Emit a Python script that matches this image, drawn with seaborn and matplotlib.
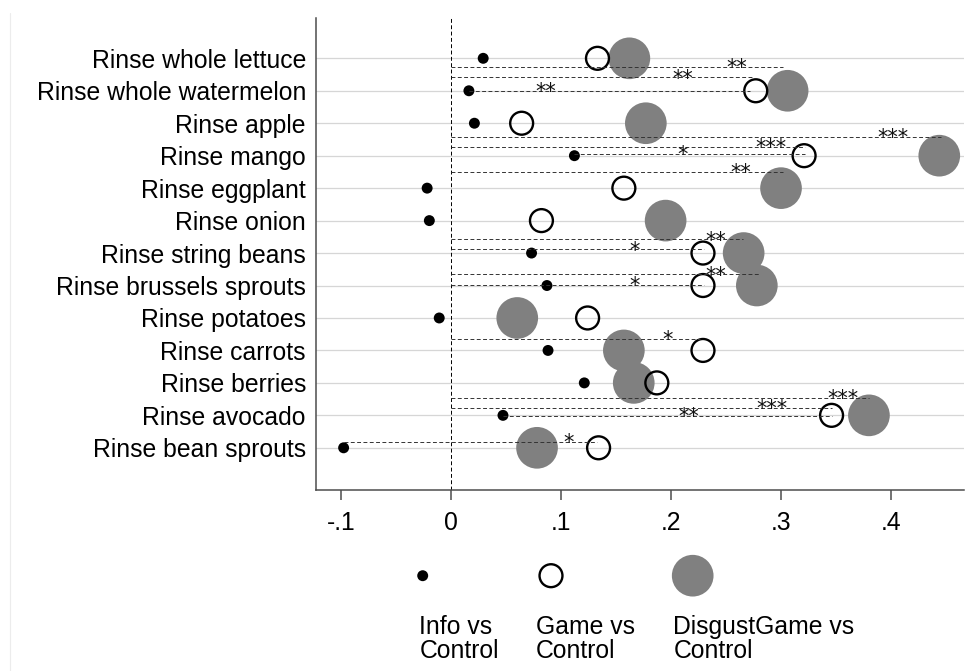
import numpy as np
import pandas as pd
import matplotlib
matplotlib.use("Agg")
import matplotlib.pyplot as plt
from matplotlib.lines import Line2D
import seaborn as sns

# ---- data -------------------------------------------------------------
items = [
    "Rinse whole lettuce", "Rinse whole watermelon", "Rinse apple", "Rinse mango",
    "Rinse eggplant", "Rinse onion", "Rinse string beans", "Rinse brussels sprouts",
    "Rinse potatoes", "Rinse carrots", "Rinse berries", "Rinse avocado",
    "Rinse bean sprouts",
]
info_vs_control = [0.029, 0.016, 0.021, 0.112, -0.022, -0.020, 0.073, 0.087,
                   -0.011, 0.088, 0.121, 0.047, -0.098]
game_vs_control = [0.133, 0.277, 0.064, 0.321, 0.157, 0.082, 0.229, 0.229,
                   0.124, 0.229, 0.187, 0.346, 0.134]
disgust_vs_control = [0.162, 0.306, 0.177, 0.444, 0.300, 0.195, 0.266, 0.278,
                      0.060, 0.157, 0.166, 0.380, 0.078]
group_labels = ["Info vs\nControl", "Game vs\nControl", "DisgustGame vs\nControl"]

# pairwise tests between treatments: row position (0 = first item),
# span of the comparison, significance stars and where the stars sit
sig_row = [0.28, 0.59, 1.0, 2.42, 2.74, 2.96, 3.51, 5.58, 5.89, 6.66, 6.97,
           8.66, 10.46, 10.78, 11.01, 11.83]
sig_from = [0, 0, 0.016, 0, 0, 0.112, 0, 0, 0, 0, 0, 0, 0, 0, 0.047, -0.098]
sig_to = [0.302, 0.274, 0.272, 0.446, 0.322, 0.322, 0.302, 0.265, 0.230, 0.281,
          0.230, 0.226, 0.380, 0.346, 0.346, 0.133]
sig_stars = ["**", "**", "**", "***", "***", "*", "**", "**", "*", "**", "*",
             "*", "***", "***", "**", "*"]
sig_label_x = [0.260, 0.211, 0.086, 0.402, 0.291, 0.210, 0.263, 0.241, 0.167,
               0.241, 0.167, 0.197, 0.356, 0.292, 0.216, 0.107]

tick_values = [-0.1, 0, 0.1, 0.2, 0.3, 0.4]
tick_labels = ["-.1", "0", ".1", ".2", ".3", ".4"]

# ---- long table -------------------------------------------------------
rows = np.arange(len(items))
df = pd.DataFrame({
    "item": items * 3,
    "row": np.tile(rows, 3),
    "effect": info_vs_control + game_vs_control + disgust_vs_control,
    "group": np.repeat(["info", "game", "disgust"], len(items)),
})

# ---- style ------------------------------------------------------------
sns.set_theme(style="white")
FONT = ["Liberation Sans", "DejaVu Sans"]
plt.rcParams["font.family"] = FONT
plt.rcParams["text.color"] = "black"
FS = 17.8

fig = plt.figure(figsize=(9.78, 6.71), dpi=100)
W, H = 978, 671
ax = fig.add_axes([315.7 / W, 1 - 490 / H, (964 - 315.7) / W, (490 - 18) / H])

# markers: grey disc at the back, hollow ring, small black dot on top
sns.scatterplot(data=df[df.group == "disgust"], x="effect", y="row", s=900,
                color="#808080", edgecolor="none", linewidth=0, ax=ax,
                zorder=3, legend=False)
sns.scatterplot(data=df[df.group == "game"], x="effect", y="row", s=272,
                color="black", edgecolor="black", linewidth=1.7, ax=ax,
                zorder=4, legend=False)
ax.collections[-1].set_facecolor("none")
sns.scatterplot(data=df[df.group == "info"], x="effect", y="row", s=62,
                color="black", edgecolor="none", linewidth=0, ax=ax,
                zorder=5, legend=False)

# zero reference line
ax.axvline(0, color="black", lw=0.7, ls=(0, (4, 2.5)), zorder=2)

# significance brackets
ax.hlines(sig_row, sig_from, sig_to, colors="#333333", lw=0.7,
          linestyles=[(0, (4, 2.5))], zorder=6)
for y, x, s in zip(sig_row, sig_label_x, sig_stars):
    ax.annotate(s, (x, y), xytext=(0, -5.1), textcoords="offset points",
                ha="center", va="baseline", fontsize=15, color="#111111",
                family="DejaVu Sans", zorder=7)

# axes and grid
ax.set_xlim(-0.1234, 0.4665)
ax.set_ylim(13.30, -1.242)
ax.set_yticks(rows)
ax.set_yticklabels(items, fontsize=FS)
ax.set_xticks(tick_values)
ax.set_xticklabels(tick_labels, fontsize=FS)
ax.set_xlabel("")
ax.set_ylabel("")
ax.yaxis.grid(True, color="#d6d6d6", lw=0.9)
ax.xaxis.grid(False)
ax.set_axisbelow(True)
for side in ["top", "right"]:
    ax.spines[side].set_visible(False)
for side in ["left", "bottom"]:
    ax.spines[side].set_color("#4d4d4d")
    ax.spines[side].set_linewidth(1.1)
ax.tick_params(axis="y", length=0, pad=7, labelcolor="black")
ax.tick_params(axis="x", length=7.2, width=1.1, color="#4d4d4d", pad=8,
               labelcolor="black", direction="out")
ax.xaxis.set_ticks_position("bottom")

# legend strip below the plot: markers on one row, labels underneath
lax = fig.add_axes([0, 0, 1, 1], zorder=-1)
lax.set_xlim(0, W)
lax.set_ylim(H, 0)
lax.axis("off")
lax.patch.set_alpha(0)
legend_x = [422.7, 551, 692.7]
label_x = [419.3, 536, 673.3]
lax.scatter([legend_x[0]], [575.7], s=62, color="black", edgecolor="none")
lax.scatter([legend_x[1]], [575.7], s=272, facecolor="none",
            edgecolor="black", linewidth=1.7)
lax.scatter([legend_x[2]], [575.7], s=900, color="#808080", edgecolor="none")
for x, lab in zip(label_x, group_labels):
    lax.text(x, 615, lab, ha="left", va="top", fontsize=FS, color="black",
             linespacing=1.0, family=FONT)

# faint frame edge of the graph region
fig.add_artist(Line2D([10 / W, 10 / W], [0, 1 - 13 / H],
                      color="#ececec", lw=0.8))

fig.savefig("out.png", dpi=100, facecolor="white")
